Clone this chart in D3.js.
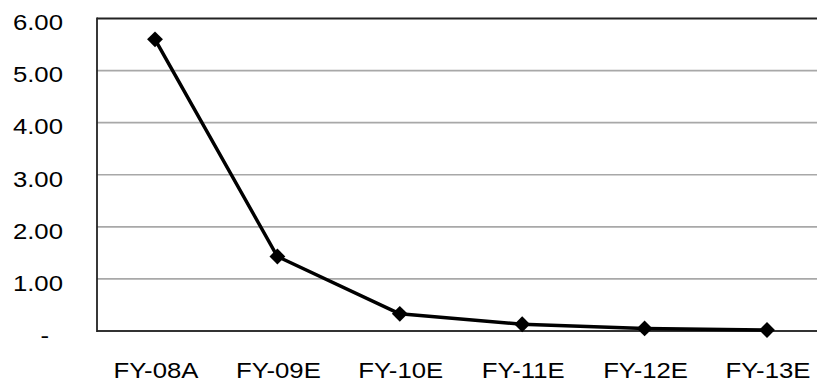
<!DOCTYPE html>
<html><head><meta charset="utf-8">
<script src="https://cdn.jsdelivr.net/npm/d3@7"></script>
<style>
html,body{margin:0;padding:0;background:#fff;overflow:hidden;}
svg{display:block;}
text{font-family:"Liberation Sans",Arial,sans-serif;fill:#000;}
</style></head>
<body>
<script>
const categories = ["FY-08A","FY-09E","FY-10E","FY-11E","FY-12E","FY-13E"];
const values = [5.60, 1.43, 0.33, 0.13, 0.05, 0.02];
const yTicks = [0,1,2,3,4,5,6];
const yTickLabels = ["-","1.00","2.00","3.00","4.00","5.00","6.00"];

const W = 817, H = 385;
const pLeft = 97, pRight = 817, pTop = 18.5, pBottom = 331;
const sx = 1.17;

const svg = d3.select("body").append("svg").attr("width", W).attr("height", H);

const x = d3.scalePoint().domain(categories).range([155, 767]);
const y = d3.scaleLinear().domain([0, 6]).range([pBottom, pTop]);

// gridlines
svg.append("g").selectAll("line").data(yTicks.filter(d => d > 0 && d < 6)).join("line")
  .attr("x1", pLeft).attr("x2", pRight)
  .attr("y1", d => y(d)).attr("y2", d => y(d))
  .attr("stroke", "#a8a8a8").attr("stroke-width", 1.6);

// top border
svg.append("line").attr("x1", pLeft).attr("x2", pRight).attr("y1", y(6)).attr("y2", y(6))
  .attr("stroke", "#222").attr("stroke-width", 1.8);
// bottom axis
svg.append("line").attr("x1", pLeft).attr("x2", pRight).attr("y1", y(0)).attr("y2", y(0))
  .attr("stroke", "#333").attr("stroke-width", 1.8);
// left border
svg.append("line").attr("x1", pLeft).attr("x2", pLeft).attr("y1", y(6) - 0.9).attr("y2", y(0) + 0.9)
  .attr("stroke", "#222").attr("stroke-width", 1.8);

// y labels
const yl = svg.append("g").selectAll("g").data(yTicks).join("g")
  .attr("transform", (d, i) => `translate(${d === 0 ? 49 : 63},${y(d) + 4}) scale(${sx},1)`);
yl.append("text")
  .attr("text-anchor", "end").attr("dominant-baseline", "central")
  .attr("font-size", 22)
  .text((d, i) => yTickLabels[i]);

// x labels
const xl = svg.append("g").selectAll("g").data(categories).join("g")
  .attr("transform", d => `translate(${x(d) + 1},378) scale(${sx},1)`);
xl.append("text").attr("text-anchor", "middle").attr("font-size", 22).text(d => d);

// line
const line = d3.line().x((d, i) => x(categories[i])).y(d => y(d));
svg.append("path").datum(values).attr("d", line)
  .attr("fill", "none").attr("stroke", "#000").attr("stroke-width", 3.5)
  .attr("stroke-linejoin", "round");

// markers
svg.append("g").selectAll("path").data(values).join("path")
  .attr("d", d3.symbol().type(d3.symbolDiamond2).size(160))
  .attr("transform", (d, i) => `translate(${x(categories[i])},${y(d)})`)
  .attr("fill", "#000");
</script>
</body></html>
